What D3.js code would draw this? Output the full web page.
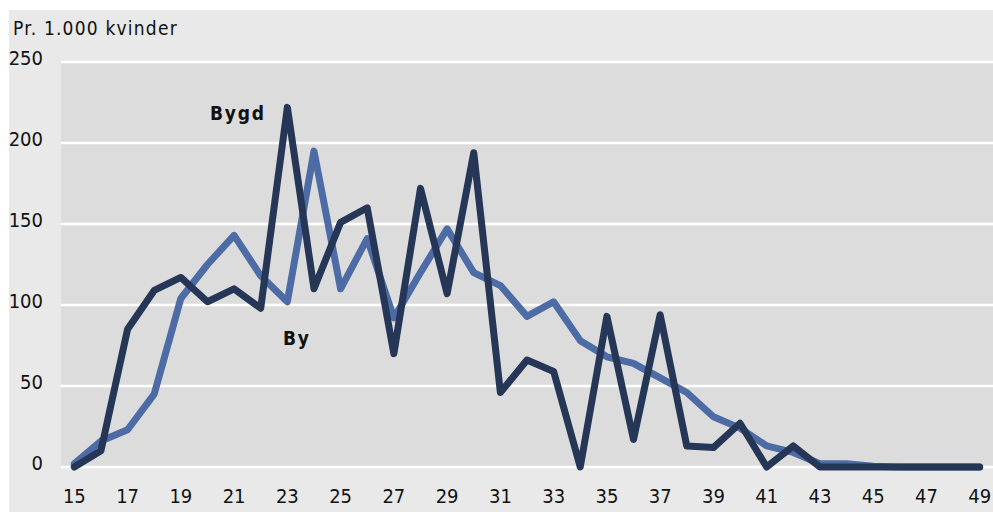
<!DOCTYPE html>
<html>
<head>
<meta charset="utf-8">
<script src="https://cdn.jsdelivr.net/npm/d3@7"></script>
<style>
  body { margin: 0; background: #fff; }
  svg { display: block; font-family: "DejaVu Sans Condensed", "DejaVu Sans", sans-serif; }
</style>
</head>
<body>
<script>
const ages = d3.range(15, 50);
const bygd = [0, 10, 85, 109, 117, 102, 110, 98, 222, 110, 151, 160, 70, 172, 107, 194, 46, 66, 59, 0,
  93, 17, 94, 13, 12, 27, 0, 13, 0, 0, 0, 0, 0, 0, 0];
const by = [2, 16, 23, 45, 104, 125, 143, 118, 102, 195, 110, 141, 92, 120, 147, 120, 112, 93, 102, 78,
  68, 64, 55, 46, 31, 24, 13, 9, 2, 2, 0.5, 0, 0, 0, 0];
const yTicks = [0, 50, 100, 150, 200, 250];
const xTicks = ages.filter(a => a % 2 === 1);

const W = 993, H = 512;
const plotL = 61, plotR = 993, plotT = 62, plotB = 467;
const FONT = "DejaVu Sans Condensed";

const svg = d3.select("body").append("svg").attr("width", W).attr("height", H);

svg.append("rect").attr("x", 9).attr("y", 10).attr("width", W - 9).attr("height", H - 10).attr("fill", "#e9e9e9");
svg.append("rect").attr("x", plotL).attr("y", plotT).attr("width", plotR - plotL).attr("height", plotB - plotT).attr("fill", "#dcdcdc");

const x = d3.scaleBand().domain(ages).range([plotL, plotR]).paddingOuter(0);
const xc = a => x(a) + x.bandwidth() / 2;
const y = d3.scaleLinear().domain([0, 250]).range([plotB, plotT]);

// gridlines
svg.append("g").selectAll("line").data(yTicks).enter().append("line")
  .attr("x1", plotL).attr("x2", plotR)
  .attr("y1", d => y(d)).attr("y2", d => y(d))
  .attr("stroke", "#fff").attr("stroke-width", 2.5);

// y axis labels
const yAxis = svg.append("g").attr("transform", `translate(${plotL},0)`)
  .call(d3.axisLeft(y).tickValues(yTicks).tickSize(0).tickPadding(18));
yAxis.select(".domain").remove();
yAxis.selectAll("text").attr("font-size", 20).attr("fill", "#111").attr("font-family", FONT).attr("dy", "0.1em");

// x axis labels
const xAxis = svg.append("g").attr("transform", `translate(0,${plotB})`)
  .call(d3.axisBottom(x).tickValues(xTicks).tickSize(0).tickPadding(22));
xAxis.select(".domain").remove();
xAxis.selectAll("text").attr("font-size", 20).attr("fill", "#111").attr("font-family", FONT);

svg.append("text").attr("x", 13).attr("y", 35).attr("font-size", 19).attr("fill", "#111")
  .attr("font-family", FONT).attr("letter-spacing", 1.2).text("Pr. 1.000 kvinder");

const line = d3.line().x((d, i) => xc(ages[i])).y(d => y(d));

svg.append("path").datum(by).attr("d", line)
  .attr("fill", "none").attr("stroke", "#4d6ca6").attr("stroke-width", 7)
  .attr("stroke-linejoin", "round").attr("stroke-linecap", "round");
svg.append("path").datum(bygd).attr("d", line)
  .attr("fill", "none").attr("stroke", "#253656").attr("stroke-width", 7)
  .attr("stroke-linejoin", "round").attr("stroke-linecap", "round");

svg.append("text").attr("x", 210).attr("y", 120).attr("font-size", 19).attr("font-weight", "bold")
  .attr("font-family", FONT).attr("letter-spacing", 1.8).attr("fill", "#111").text("Bygd");
svg.append("text").attr("x", 283).attr("y", 345).attr("font-size", 19).attr("font-weight", "bold")
  .attr("font-family", FONT).attr("letter-spacing", 1.8).attr("fill", "#111").text("By");
</script>
</body>
</html>
